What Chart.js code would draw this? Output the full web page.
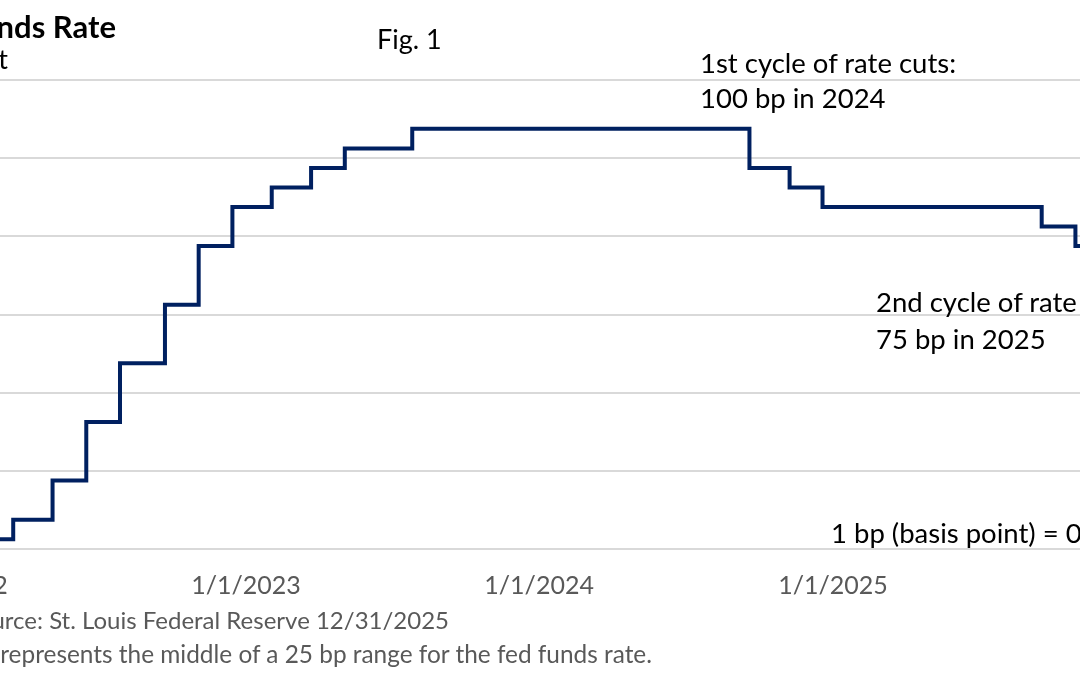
<!DOCTYPE html>
<html>
<head>
<meta charset="utf-8">
<script src="https://cdn.jsdelivr.net/npm/chart.js@4.4.1/dist/chart.umd.min.js"></script>
<style>
  html, body { margin: 0; padding: 0; background: #fff; }
  body { width: 1080px; height: 675px; overflow: hidden; position: relative; font-family: Lato, "Open Sans", sans-serif; }
  #wrap { position: absolute; left: -200px; top: 0; width: 1500px; height: 675px; }
  .t { position: absolute; white-space: nowrap; line-height: 1; }
  .title { font-weight: bold; font-size: 31px; color: #000; right: 964px; top: 11px; }
  .sub { font-size: 27px; color: #000; right: 1072px; top: 45px; }
  .fig { font-size: 27px; color: #000; left: 377px; top: 25px; }
  .ann { font-size: 27.5px; color: #000; }
  .foot { font-size: 24px; color: #595959; }
</style>
</head>
<body>
<div id="wrap"><canvas id="c" width="1500" height="675"></canvas></div>
<div class="t title">Fed Funds Rate</div>
<div class="t sub">Percent</div>
<div class="t fig">Fig. 1</div>
<div class="t ann" style="left:700px; top:49px;">1st cycle of rate cuts:</div>
<div class="t ann" style="left:700px; top:84px;">100 bp in 2024</div>
<div class="t ann" style="left:876px; top:288px;">2nd cycle of rate cuts:</div>
<div class="t ann" style="left:876px; top:325px;">75 bp in 2025</div>
<div class="t ann" style="left:831px; top:519px;">1 bp (basis point) = 0.01%</div>
<div class="t foot" style="right:631px; top:608px;">Source: St. Louis Federal Reserve 12/31/2025</div>
<div class="t foot" style="right:428px; top:642px; font-size:24.4px;">Note: Line represents the middle of a 25 bp range for the fed funds rate.</div>
<script>
// Fed funds rate (midpoint of target range), effective dates of changes
const changeDates = [
  "2022-01-01", "2022-03-17", "2022-05-05", "2022-06-16", "2022-07-28",
  "2022-09-22", "2022-11-03", "2022-12-15", "2023-02-02", "2023-03-23",
  "2023-05-04", "2023-07-27", "2024-09-19", "2024-11-08", "2024-12-19",
  "2025-09-18", "2025-10-30", "2025-12-11", "2025-12-31"
];
const rateValues = [
  0.125, 0.375, 0.875, 1.625, 2.375,
  3.125, 3.875, 4.375, 4.625, 4.875,
  5.125, 5.375, 4.875, 4.625, 4.375,
  4.125, 3.875, 3.625, 3.625
];
const xTickDates = ["2022-01-01", "2023-01-01", "2024-01-01", "2025-01-01"];
const xRange = ["2022-01-01", "2026-01-01"];
const yTicks = [0, 1, 2, 3, 4, 5, 6];

const BASE = Date.UTC(2022, 0, 1);
const dayOf = s => { const [y, m, d] = s.split("-").map(Number); return (Date.UTC(y, m - 1, d) - BASE) / 86400000; };
const labelOf = v => { const dt = new Date(BASE + v * 86400000); return (dt.getUTCMonth() + 1) + "/" + dt.getUTCDate() + "/" + dt.getUTCFullYear(); };

const points = changeDates.map((d, i) => ({ x: dayOf(d), y: rateValues[i] }));
const xTickVals = xTickDates.map(dayOf);

new Chart(document.getElementById("c"), {
  type: "line",
  data: {
    datasets: [{
      data: points,
      stepped: "before",
      borderColor: "#002060",
      borderWidth: 4,
      pointRadius: 0,
      fill: false,
      borderJoinStyle: "miter"
    }]
  },
  options: {
    responsive: false,
    animation: false,
    devicePixelRatio: 1,
    layout: { padding: { top: 80, right: 174, left: 0, bottom: 0 } },
    plugins: { legend: { display: false }, tooltip: { enabled: false }, title: { display: false } },
    scales: {
      x: {
        type: "linear",
        min: dayOf(xRange[0]),
        max: dayOf(xRange[1]),
        afterBuildTicks: axis => { axis.ticks = xTickVals.map(v => ({ value: v })); },
        afterFit: axis => { axis.height = 126; },
        grid: { display: false, drawTicks: false },
        border: { display: false },
        ticks: {
          callback: v => labelOf(v),
          color: "#595959",
          font: { family: "Lato", size: 25 },
          padding: 22,
          maxRotation: 0,
          autoSkip: false
        }
      },
      y: {
        min: yTicks[0],
        max: yTicks[yTicks.length - 1],
        afterBuildTicks: axis => { axis.ticks = yTicks.map(v => ({ value: v })); },
        afterFit: axis => { axis.width = 153; },
        grid: { color: "#d9d9d9", lineWidth: 2, drawTicks: false },
        border: { display: false },
        ticks: { color: "#595959", font: { family: "Lato", size: 25 }, callback: v => v.toFixed(1) }
      }
    }
  }
});
</script>
</body>
</html>
